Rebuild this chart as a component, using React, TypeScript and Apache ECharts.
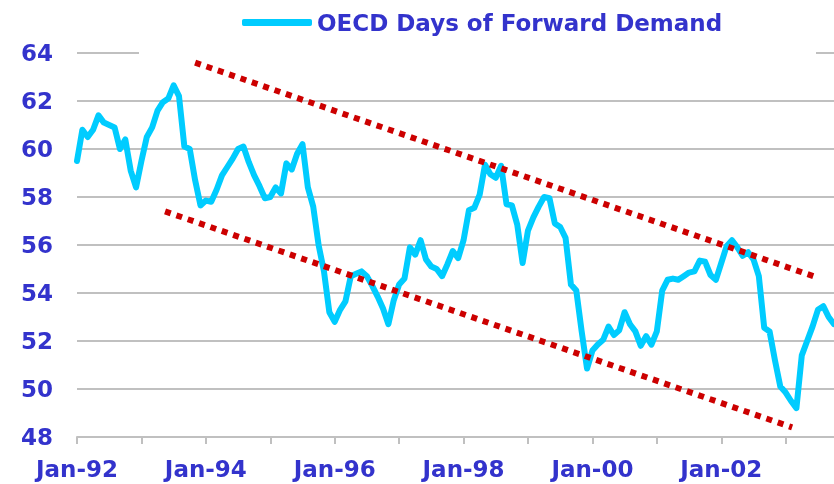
import React, { useEffect, useRef } from "react";
import * as echarts from "echarts";

const seriesName = "OECD Days of Forward Demand";
const tickLabels = ["Jan-92", "Jan-94", "Jan-96", "Jan-98", "Jan-00", "Jan-02"];

// Monthly values, Jan-92 onward
const daysOfDemand = [
  59.5, 60.8, 60.5, 60.8, 61.4, 61.1, 61.0, 60.9, 60.0, 60.4, 59.1, 58.4,
  59.5, 60.5, 60.9, 61.6, 61.95, 62.1, 62.65, 62.2, 60.1, 60.0, 58.7, 57.65,
  57.85, 57.8, 58.3, 58.9, 59.25, 59.6, 60.0, 60.1, 59.45, 58.9, 58.45, 57.95,
  58.0, 58.4, 58.15, 59.4, 59.15, 59.8, 60.2, 58.4, 57.6, 56.0, 54.9, 53.2,
  52.8, 53.3, 53.65, 54.7, 54.8, 54.9, 54.7, 54.3, 53.85, 53.35, 52.7, 53.7,
  54.35, 54.6, 55.9, 55.6, 56.2, 55.4, 55.1, 55.0, 54.7, 55.2, 55.75, 55.45,
  56.2, 57.45, 57.55, 58.1, 59.35, 58.95, 58.8, 59.3, 57.7, 57.65, 56.85, 55.25,
  56.6, 57.15, 57.6, 58.0, 57.95, 56.9, 56.75, 56.3, 54.35, 54.1, 52.4, 50.85,
  51.6, 51.85, 52.05, 52.6, 52.25, 52.45, 53.2, 52.7, 52.4, 51.8, 52.2, 51.85,
  52.4, 54.1, 54.55, 54.6, 54.55, 54.7, 54.85, 54.9, 55.35, 55.3, 54.75, 54.55,
  55.25, 55.95, 56.2, 55.9, 55.55, 55.7, 55.4, 54.7, 52.55, 52.4, 51.2, 50.1,
  49.85, 49.5, 49.2, 51.4, 52.0, 52.6, 53.3, 53.45, 53.0, 52.7,
];

// Trend channel endpoints: [month index, value]
const upperTrend = [
  [22.0, 63.6],
  [137.8, 54.65],
];
const lowerTrend = [
  [16.4, 57.4],
  [133.2, 48.4],
];

export default function App() {
  const ref = useRef<HTMLDivElement>(null);
  useEffect(() => {
    const chart = echarts.init(ref.current!, null, { renderer: "svg" });
    const font = '"DejaVu Sans", "Liberation Sans", Arial, sans-serif';
    const textColor = "#3333cc";
    const gridColor = "#c0c0c0";
    chart.setOption({
      animation: false,
      textStyle: { fontFamily: font },
      graphic: [
        {
          type: "rect",
          z: 3,
          shape: { x: 139, y: 0, width: 677, height: 56 },
          style: { fill: "#ffffff" },
          silent: true,
        },
      ],
      legend: {
        data: [seriesName],
        left: 237,
        top: 6,
        icon: "roundRect",
        itemWidth: 70,
        itemHeight: 7,
        textStyle: {
          fontFamily: font,
          fontSize: 23,
          fontWeight: "bold",
          color: textColor,
        },
      },
      grid: { left: 77, right: 0, top: 53, bottom: 47 },
      xAxis: {
        type: "value",
        min: 0,
        max: 141,
        interval: 12,
        axisLine: { show: true, lineStyle: { color: gridColor, width: 2 } },
        axisTick: { show: true, length: 7, lineStyle: { color: gridColor, width: 2 } },
        splitLine: { show: false },
        axisLabel: {
          showMaxLabel: false,
          margin: 20,
          fontFamily: font,
          fontSize: 23,
          fontWeight: "bold",
          color: textColor,
          formatter: (v: number) => (v % 24 === 0 ? tickLabels[v / 24] ?? "" : ""),
        },
      },
      yAxis: {
        type: "value",
        min: 48,
        max: 64,
        interval: 2,
        axisLine: { show: false },
        axisTick: { show: false },
        splitLine: { show: true, lineStyle: { color: gridColor, width: 2 } },
        axisLabel: {
          margin: 24,
          fontFamily: font,
          fontSize: 23,
          fontWeight: "bold",
          color: textColor,
        },
      },
      series: [
        {
          name: seriesName,
          type: "line",
          data: daysOfDemand.map((v, i) => [i, v]),
          symbol: "none",
          z: 2,
          itemStyle: { color: "#00ccff" },
          lineStyle: { color: "#00ccff", width: 6, join: "round", cap: "round" },
        },
        {
          name: "Upper trend",
          type: "line",
          data: upperTrend,
          symbol: "none",
          z: 3,
          lineStyle: { color: "#cc0000", width: 6, type: [6, 6], cap: "butt" },
        },
        {
          name: "Lower trend",
          type: "line",
          data: lowerTrend,
          symbol: "none",
          z: 3,
          lineStyle: { color: "#cc0000", width: 6, type: [6, 6], cap: "butt" },
        },
      ],
    });
    return () => chart.dispose();
  }, []);
  return (
    <div
      ref={ref}
      style={{ position: "fixed", left: 0, top: 0, width: 834, height: 484 }}
    />
  );
}
